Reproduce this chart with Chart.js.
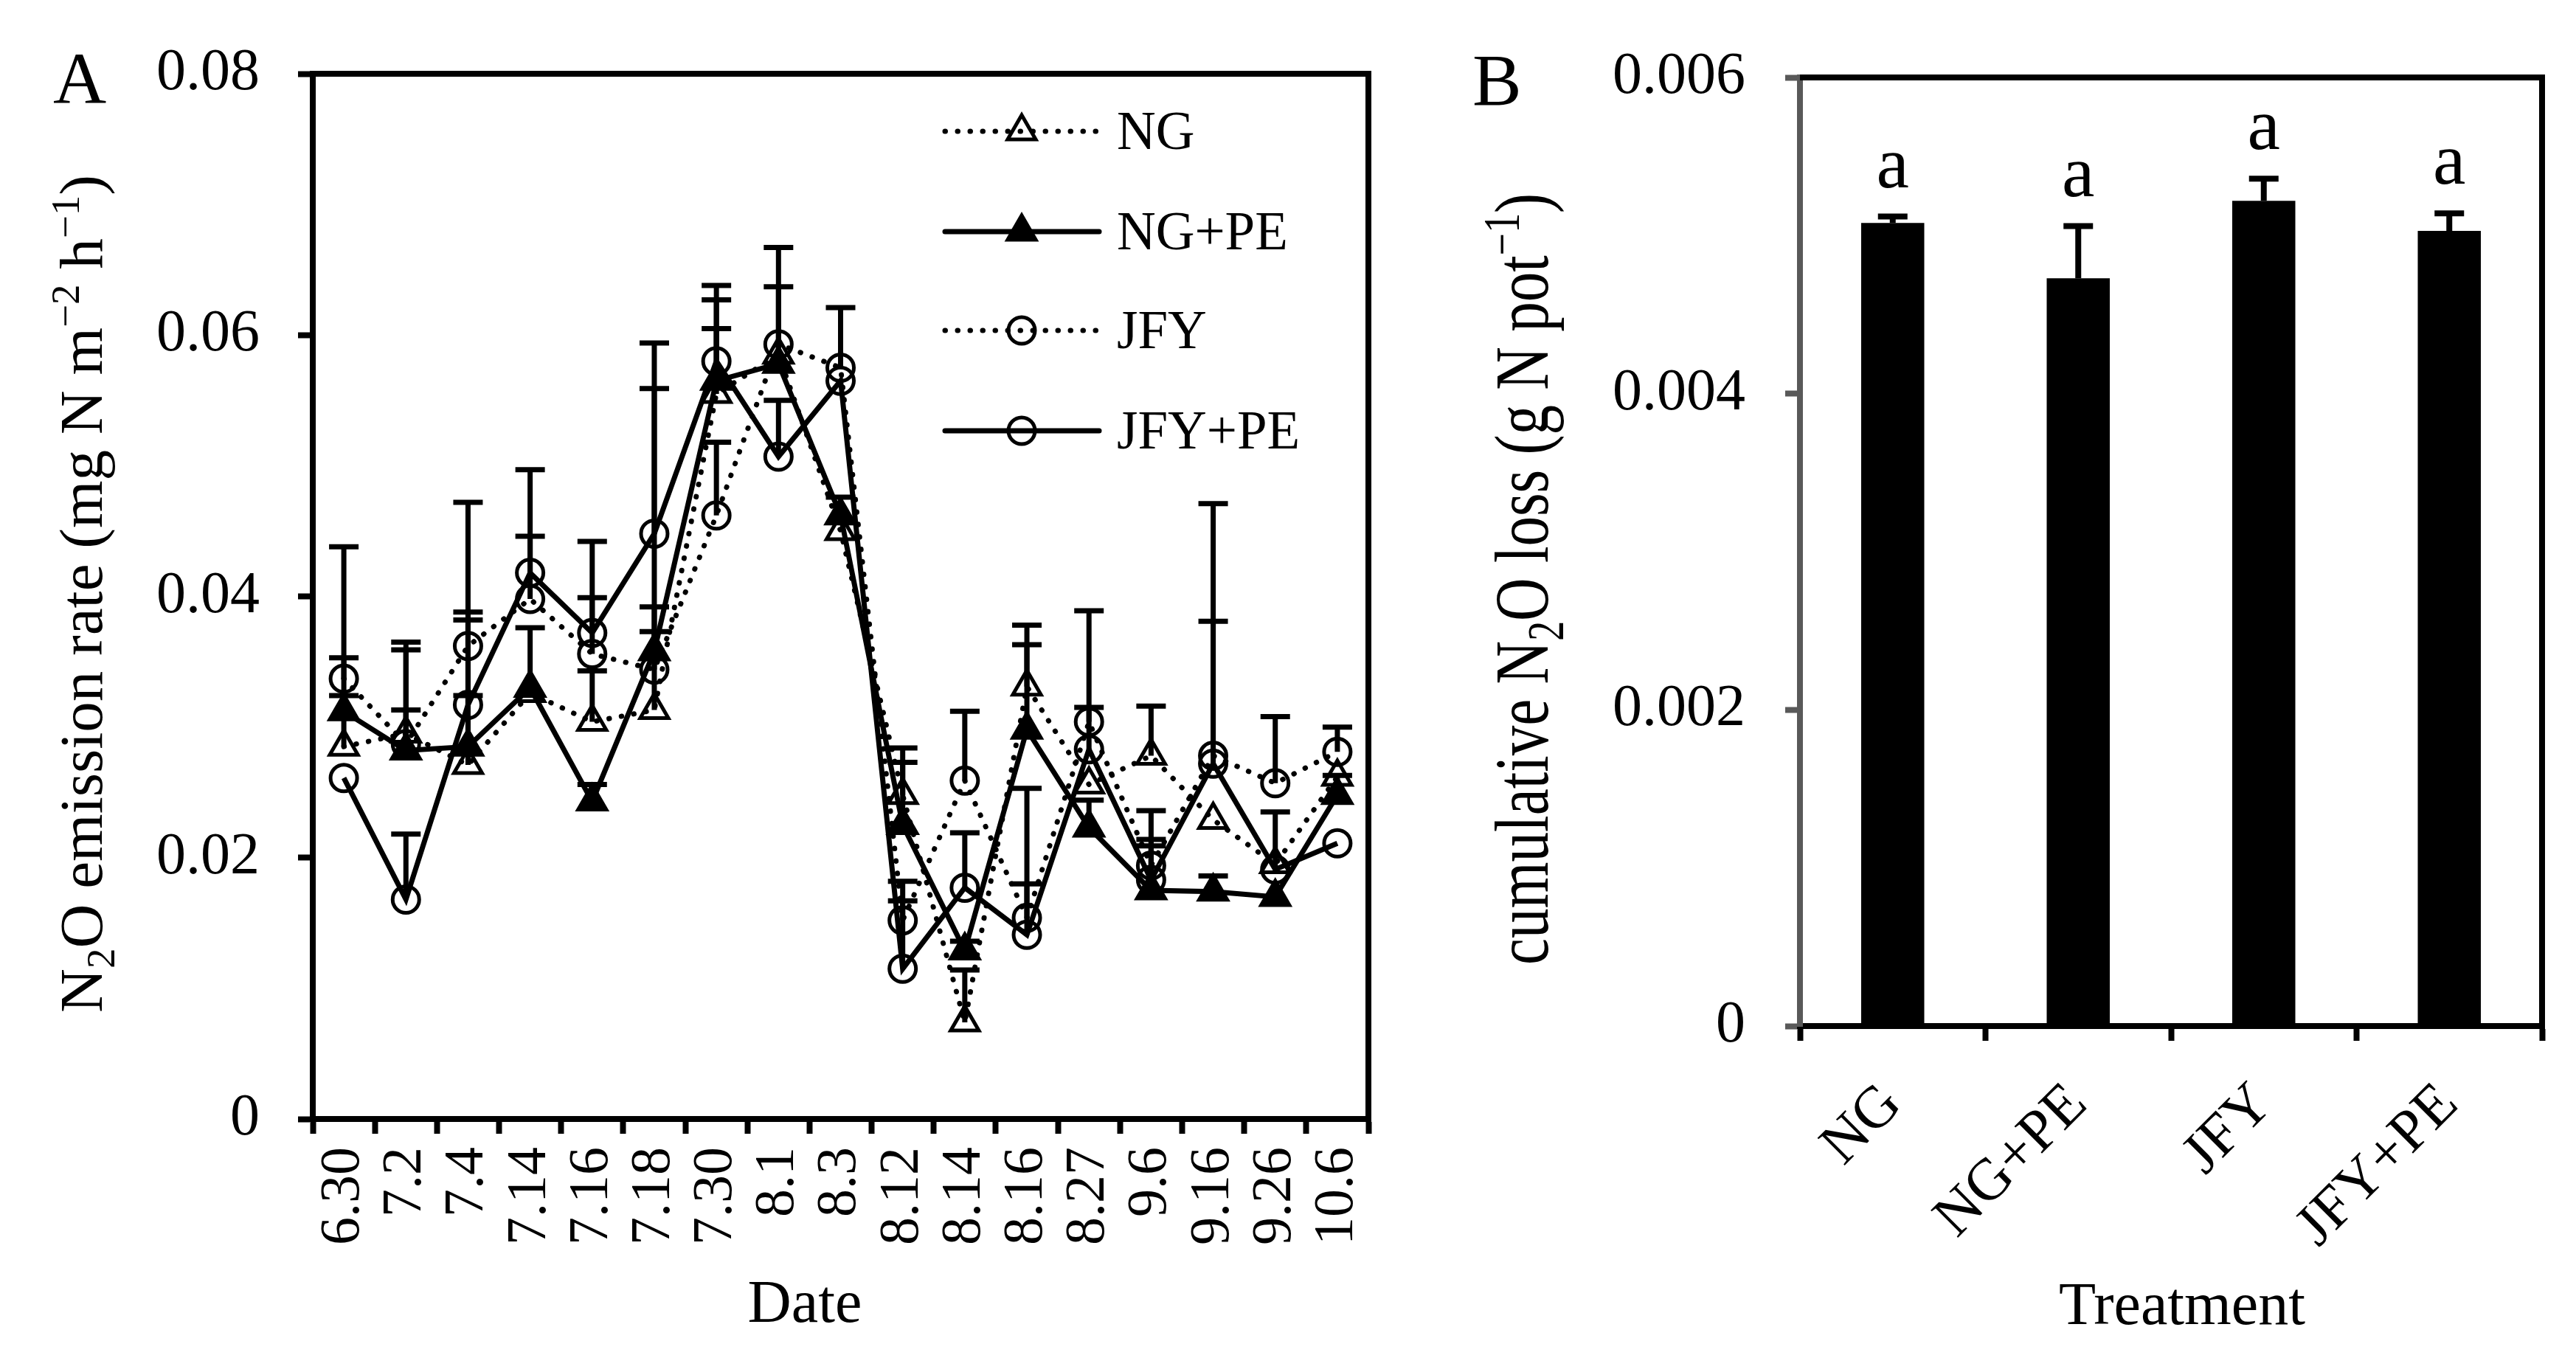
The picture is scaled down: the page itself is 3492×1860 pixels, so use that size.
<!DOCTYPE html>
<html>
<head>
<meta charset="utf-8">
<script src="https://cdn.jsdelivr.net/npm/chart.js@4.4.1/dist/chart.umd.min.js"></script>
<style>
  html, body { margin: 0; padding: 0; background: #fff; }
  #wrap { position: relative; width: 3492px; height: 1860px; }
  canvas { position: absolute; top: 0; }
  #chartA { left: 0; }
  #chartB { left: 1960px; }
</style>
</head>
<body>
<div id="wrap">
  <canvas id="chartA" width="1960" height="1860"></canvas>
  <canvas id="chartB" width="1532" height="1860"></canvas>
</div>
<script>
// panel A: N2O emission rate by sampling date
var dates = ['6.30', '7.2', '7.4', '7.14', '7.16', '7.18', '7.30', '8.1', '8.3',
             '8.12', '8.14', '8.16', '8.27', '9.6', '9.16', '9.26', '10.6'];

var ngRate     = [0.0285, 0.0295, 0.0271, 0.0326, 0.0304, 0.0313, 0.0555, 0.0585, 0.0450, 0.0248, 0.0074, 0.0331, 0.0256, 0.0278, 0.0229, 0.0195, 0.0262];
var ngPeRate   = [0.0312, 0.0282, 0.0285, 0.0330, 0.0243, 0.0358, 0.0565, 0.0578, 0.0462, 0.0225, 0.0129, 0.0298, 0.0223, 0.0175, 0.0174, 0.0170, 0.0248];
var jfyRate    = [0.0337, 0.0287, 0.0362, 0.0398, 0.0356, 0.0344, 0.0462, 0.0593, 0.0575, 0.0152, 0.0259, 0.0154, 0.0304, 0.0194, 0.0278, 0.0257, 0.0281];
var jfyPeRate  = [0.0261, 0.0168, 0.0317, 0.0418, 0.0372, 0.0448, 0.0580, 0.0507, 0.0565, 0.0115, 0.0177, 0.0141, 0.0283, 0.0183, 0.0272, 0.0191, 0.0211];

// upper error bars (0 = hidden behind the marker)
var ngRateErr    = [0.0039, 0.0018, 0.0111, 0, 0.0039, 0.0060, 0.0072, 0.0082, 0, 0.0036, 0.0040, 0.0047, 0, 0.0038, 0, 0, 0];
var ngPeRateErr  = [0.0041, 0.0083, 0.0039, 0.0046, 0.0013, 0.0034, 0.0073, 0.0059, 0.0014, 0.0048, 0.0007, 0.0065, 0.0021, 0.0034, 0.0012, 0, 0.0015];
var jfyRateErr   = [0.0101, 0.0072, 0.0026, 0.0048, 0.0043, 0.0215, 0.0056, 0, 0.0046, 0.0030, 0.0053, 0.0099, 0.0011, 0.0042, 0.0193, 0.0051, 0.0019];
var jfyPeRateErr = [0, 0.0050, 0.0155, 0.0079, 0.0070, 0.0146, 0.0025, 0.0043, 0, 0.0052, 0.0042, 0.0039, 0.0106, 0.0031, 0.0109, 0.0044, 0];

// panel B: cumulative N2O loss
var treatments = ['NG', 'NG+PE', 'JFY', 'JFY+PE'];
var cumLoss    = [0.00508, 0.00473, 0.00522, 0.00503];
var cumLossErr = [0.00004, 0.00033, 0.00014, 0.00011];
var cumLetters = ['a', 'a', 'a', 'a'];

var serif = "'Liberation Serif', 'Times New Roman', serif";
var dotted = [0.5, 16.5];

// text with sub/superscripts, optionally rotated and squeezed along the run
function drawRich(ctx, parts, cx, cy, size, vertical, squeeze) {
  ctx.save();
  ctx.translate(cx, cy);
  if (vertical) ctx.rotate(-Math.PI / 2);
  if (squeeze) ctx.scale(squeeze, 1);
  ctx.fillStyle = '#000';
  ctx.textAlign = 'left';
  ctx.textBaseline = 'alphabetic';
  var total = 0;
  parts.forEach(function (p) {
    ctx.font = (p.s ? Math.round(size * 0.66) : size) + 'px ' + serif;
    p.w = ctx.measureText(p.t).width;
    total += p.w;
  });
  var x = -total / 2, base = size * 0.33;
  parts.forEach(function (p) {
    ctx.font = (p.s ? Math.round(size * 0.66) : size) + 'px ' + serif;
    var dy = p.s === 'sub' ? size * 0.2 : (p.s === 'sup' ? -size * 0.38 : 0);
    ctx.fillText(p.t, x, base + dy);
    x += p.w;
  });
  ctx.restore();
}

function frame(ctx, area) {
  ctx.save();
  ctx.strokeStyle = '#000';
  ctx.lineWidth = 8;
  ctx.beginPath();
  ctx.moveTo(area.left, area.top);
  ctx.lineTo(area.right, area.top);
  ctx.lineTo(area.right, area.bottom + 4);
  ctx.stroke();
  ctx.restore();
}

function errBar(ctx, x, y0, y1) {
  ctx.beginPath();
  ctx.moveTo(x, y0);
  ctx.lineTo(x, y1);
  ctx.moveTo(x - 20, y1);
  ctx.lineTo(x + 20, y1);
  ctx.stroke();
}

var rateErrs = [ngRateErr, ngPeRateErr, jfyRateErr, jfyPeRateErr];

var panelA = {
  id: 'panelA',
  afterDatasetsDraw: function (chart) {
    var ctx = chart.ctx, ys = chart.scales.y;
    ctx.save();
    ctx.strokeStyle = '#000';
    ctx.lineWidth = 7;
    chart.data.datasets.forEach(function (ds, i) {
      var meta = chart.getDatasetMeta(i);
      rateErrs[i].forEach(function (e, j) {
        if (!e) return;
        var v = ds.data[j];
        errBar(ctx, meta.data[j].x, ys.getPixelForValue(v), ys.getPixelForValue(v + e));
      });
    });
    ctx.restore();
  },
  afterDraw: function (chart) {
    var ctx = chart.ctx;
    frame(ctx, chart.chartArea);

    // legend
    var rows = [178, 314, 448, 584];
    chart.data.datasets.forEach(function (ds, i) {
      var y = rows[i];
      ctx.save();
      ctx.strokeStyle = '#000';
      ctx.lineWidth = 7;
      ctx.lineCap = 'round';
      ctx.setLineDash(ds.borderDash || []);
      ctx.beginPath();
      ctx.moveTo(1281, y);
      ctx.lineTo(1490, y);
      ctx.stroke();
      ctx.restore();
      ctx.save();
      ctx.strokeStyle = '#000';
      ctx.fillStyle = ds.pointBackgroundColor;
      ctx.lineWidth = ds.pointBorderWidth;
      Chart.helpers.drawPoint(ctx, { pointStyle: ds.pointStyle, radius: ds.pointRadius, rotation: 0, borderWidth: ds.pointBorderWidth }, 1385, y);
      ctx.restore();
      ctx.save();
      ctx.fillStyle = '#000';
      ctx.font = '73px ' + serif;
      ctx.textBaseline = 'alphabetic';
      ctx.fillText(ds.label, 1514, y + 24);
      ctx.restore();
    });

    ctx.save();
    ctx.fillStyle = '#000';
    ctx.font = '100px ' + serif;
    ctx.fillText('A', 72, 140);
    ctx.font = '82px ' + serif;
    ctx.textAlign = 'center';
    ctx.fillText('Date', 1091, 1792);
    ctx.restore();

    drawRich(ctx, [
      { t: 'N' }, { t: '2', s: 'sub' }, { t: 'O emission rate (mg N m' },
      { t: '\u22122', s: 'sup' }, { t: ' h' }, { t: '\u22121', s: 'sup' }, { t: ')' }
    ], 111, 805, 83, true);
  }
};

var panelB = {
  id: 'panelB',
  afterDatasetsDraw: function (chart) {
    var ctx = chart.ctx, ys = chart.scales.y;
    var meta = chart.getDatasetMeta(0);
    ctx.save();
    ctx.strokeStyle = '#000';
    ctx.lineWidth = 8;
    cumLoss.forEach(function (v, j) {
      var x = meta.data[j].x;
      var top = ys.getPixelForValue(v + cumLossErr[j]);
      errBar(ctx, x, ys.getPixelForValue(v), top);
      ctx.fillStyle = '#000';
      ctx.font = '100px ' + serif;
      ctx.textAlign = 'center';
      ctx.fillText(cumLetters[j], x, top - 40);
    });
    ctx.restore();
  },
  afterDraw: function (chart) {
    var ctx = chart.ctx;
    frame(ctx, chart.chartArea);
    ctx.save();
    ctx.fillStyle = '#000';
    ctx.font = '100px ' + serif;
    ctx.fillText('B', 36, 142);
    ctx.font = '82px ' + serif;
    ctx.textAlign = 'center';
    ctx.fillText('Treatment', 998, 1795);
    ctx.restore();
    drawRich(ctx, [
      { t: 'cumulative N' }, { t: '2', s: 'sub' }, { t: 'O loss (g N pot' },
      { t: '\u22121', s: 'sup' }, { t: ')' }
    ], 104, 785, 104, true, 0.78);
  }
};

function lineSet(label, data, dash, style, fill, radius) {
  return {
    label: label,
    data: data,
    borderColor: '#000',
    borderWidth: 7,
    borderDash: dash,
    borderCapStyle: dash.length ? 'round' : 'butt',
    pointStyle: style,
    pointRadius: radius,
    pointBorderWidth: 5,
    pointBorderColor: '#000',
    pointBackgroundColor: fill,
    tension: 0
  };
}

var chartA = new Chart(document.getElementById('chartA'), {
  type: 'line',
  data: {
    labels: dates,
    datasets: [
      lineSet('NG', ngRate, dotted, 'triangle', 'rgba(0,0,0,0)', 22),
      lineSet('NG+PE', ngPeRate, [], 'triangle', '#000', 22),
      lineSet('JFY', jfyRate, dotted, 'circle', 'rgba(0,0,0,0)', 18),
      lineSet('JFY+PE', jfyPeRate, [], 'circle', 'rgba(0,0,0,0)', 18)
    ]
  },
  options: {
    responsive: false,
    animation: false,
    devicePixelRatio: 1,
    layout: { padding: { top: 81, right: 105, left: 0, bottom: 0 } },
    plugins: { legend: { display: false }, tooltip: { enabled: false } },
    scales: {
      x: {
        offset: true,
        grid: { offset: true, drawOnChartArea: false, tickLength: 20, tickWidth: 8, tickColor: '#000' },
        border: { display: true, color: '#000', width: 8 },
        ticks: { autoSkip: false, minRotation: 90, maxRotation: 90, padding: 18, color: '#000', font: { family: serif, size: 76 } },
        afterFit: function (s) { s.height = 1860 - 1517; }
      },
      y: {
        min: 0,
        max: 0.08,
        grid: { drawOnChartArea: false, tickLength: 20, tickWidth: 8, tickColor: '#000' },
        border: { display: true, color: '#000', width: 8 },
        ticks: {
          stepSize: 0.02, padding: 52, color: '#000', font: { family: serif, size: 80 },
          callback: function (v) { return v === 0 ? '0' : v.toFixed(2); }
        },
        afterFit: function (s) { s.width = 424; }
      }
    }
  },
  plugins: [panelA]
});

var chartB = new Chart(document.getElementById('chartB'), {
  type: 'bar',
  data: {
    labels: treatments,
    datasets: [{
      label: 'cumulative N2O loss',
      data: cumLoss,
      backgroundColor: '#000',
      borderWidth: 0,
      barPercentage: 0.34,
      categoryPercentage: 1
    }]
  },
  options: {
    responsive: false,
    animation: false,
    devicePixelRatio: 1,
    layout: { padding: { top: 105, right: 46, left: 0, bottom: 0 } },
    plugins: { legend: { display: false }, tooltip: { enabled: false } },
    scales: {
      x: {
        grid: { offset: true, drawOnChartArea: false, tickLength: 20, tickWidth: 8, tickColor: '#000' },
        border: { display: true, color: '#000', width: 8 },
        ticks: { autoSkip: false, minRotation: 45, maxRotation: 45, padding: 40, color: '#000', font: { family: serif, size: 80 } },
        afterFit: function (s) { s.height = 1860 - 1391; }
      },
      y: {
        min: 0,
        max: 0.006,
        grid: { drawOnChartArea: false, tickLength: 20, tickWidth: 8, tickColor: '#595959' },
        border: { display: true, color: '#595959', width: 8 },
        ticks: {
          stepSize: 0.002, padding: 54, color: '#000', font: { family: serif, size: 80 },
          callback: function (v) { return v === 0 ? '0' : v.toFixed(3); }
        },
        afterFit: function (s) { s.width = 2440 - 1960; }
      }
    }
  },
  plugins: [panelB]
});
</script>
</body>
</html>
